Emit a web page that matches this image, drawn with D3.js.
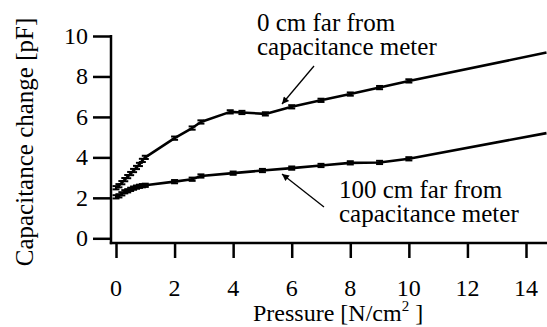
<!DOCTYPE html>
<html><head><meta charset="utf-8"><script src="https://cdn.jsdelivr.net/npm/d3@7"></script></head>
<body style="margin:0">
<script>
// ---- data ----
const pressure0 = [0, 0.1, 0.2, 0.3, 0.4, 0.5, 0.6, 0.7, 0.8, 0.9, 1.0, 2.0, 2.6, 2.9, 3.9, 4.3, 5.1, 6.0, 7.0, 8.0, 9.0, 10.0, 14.7];
const cap0 = [2.5, 2.6, 2.75, 2.9, 3.05, 3.2, 3.35, 3.5, 3.65, 3.85, 4.0, 4.95, 5.45, 5.75, 6.25, 6.22, 6.15, 6.5, 6.82, 7.13, 7.45, 7.78, 9.18];
const pressure100 = [0, 0.1, 0.2, 0.3, 0.4, 0.5, 0.6, 0.7, 0.8, 0.9, 1.0, 2.0, 2.6, 2.9, 4.0, 5.0, 6.0, 7.0, 8.0, 9.0, 10.0, 14.7];
const cap100 = [2.05, 2.1, 2.2, 2.3, 2.35, 2.42, 2.48, 2.53, 2.57, 2.6, 2.62, 2.8, 2.92, 3.08, 3.22, 3.35, 3.47, 3.6, 3.73, 3.75, 3.93, 5.2];
const errBar = 0.08;
const xTicks = [0, 2, 4, 6, 8, 10, 12, 14];
const yTicks = [0, 2, 4, 6, 8, 10];
const xTitle = "Pressure [N/cm";
const yTitle = "Capacitance change [pF]";
const label0 = ["0 cm far from", "capacitance meter"];
const label100 = ["100 cm far from", "capacitance meter"];

// ---- layout ----
const W = 547, H = 327;
const svg = d3.select("body").append("svg").attr("width", W).attr("height", H);
const x = d3.scaleLinear().domain([0, 14]).range([116, 526]);
const y = d3.scaleLinear().domain([0, 10]).range([238.3, 36]);
const axisX = 111, axisY = 243;
const FS = 24;

function serif(sel, size) {
  return sel.attr("font-size", size).style("font-family", `"Liberation Serif"`);
}

// y axis ticks (lines only from d3 axis; labels as own texts)
const gy = svg.append("g").attr("transform", `translate(${axisX},0)`)
  .call(d3.axisLeft(y).tickValues(yTicks).tickSize(18).tickFormat(""));
gy.select(".domain").remove();
gy.attr("font-family", null).attr("font-size", null);
gy.selectAll(".tick text").remove();
gy.selectAll(".tick line").attr("stroke", "#000").attr("stroke-width", 2.5);
yTicks.forEach(v => {
  serif(svg.append("text"), FS).attr("x", axisX - 23).attr("y", y(v) + 8)
    .attr("text-anchor", "end").text(v);
});
svg.append("line").attr("x1", axisX).attr("x2", axisX).attr("y1", y(10) - 1).attr("y2", axisY + 1.2)
  .attr("stroke", "#000").attr("stroke-width", 2.5);

// x axis
const gx = svg.append("g").attr("transform", `translate(0,${axisY})`)
  .call(d3.axisBottom(x).tickValues(xTicks).tickSize(15).tickFormat(""));
gx.select(".domain").remove();
gx.attr("font-family", null).attr("font-size", null);
gx.selectAll(".tick text").remove();
gx.selectAll(".tick line").attr("stroke", "#000").attr("stroke-width", 2.5);
xTicks.forEach(v => {
  serif(svg.append("text"), FS).attr("x", x(v)).attr("y", axisY + 53)
    .attr("text-anchor", "middle").text(v);
});
svg.append("line").attr("x1", axisX - 1.2).attr("x2", W).attr("y1", axisY).attr("y2", axisY)
  .attr("stroke", "#000").attr("stroke-width", 2.5);

// titles
const xt = serif(svg.append("text"), FS).attr("x", 253).attr("y", 321);
xt.append("tspan").text(xTitle);
xt.append("tspan").attr("font-size", 15).attr("dy", -10).text("2");
xt.append("tspan").attr("dy", 10).text(" ]");

serif(svg.append("text"), 25).attr("transform", "translate(33,142) rotate(-90)")
  .attr("text-anchor", "middle").text(yTitle);

// series
const lineGen = d3.line().x(d => x(d[0])).y(d => y(d[1]));
function drawSeries(px, py) {
  const pts = px.map((v, i) => [v, py[i]]);
  svg.append("path").datum(pts).attr("d", lineGen).attr("fill", "none")
    .attr("stroke", "#000").attr("stroke-width", 2.6).attr("stroke-linejoin", "round");
  const g = svg.append("g").attr("stroke", "#000").attr("stroke-width", 2);
  pts.slice(0, pts.length - 1).forEach(d => {
    g.append("line").attr("x1", x(d[0])).attr("x2", x(d[0]))
      .attr("y1", y(d[1] - errBar)).attr("y2", y(d[1] + errBar));
    [d[1] - errBar, d[1] + errBar].forEach(v => {
      g.append("line").attr("x1", x(d[0]) - 3.5).attr("x2", x(d[0]) + 3.5)
        .attr("y1", y(v)).attr("y2", y(v));
    });
  });
}
drawSeries(pressure0, cap0);
drawSeries(pressure100, cap100);

// annotations
function label(lines, lx, ly) {
  lines.forEach((t, i) => {
    serif(svg.append("text"), 25).attr("x", lx).attr("y", ly + i * 23.5).text(t);
  });
}
label(label0, 257, 31);
label(label100, 339, 198);

const defs = svg.append("defs");
defs.append("marker").attr("id", "ah").attr("viewBox", "0 0 10 10").attr("refX", 10).attr("refY", 5)
  .attr("markerWidth", 9).attr("markerHeight", 7).attr("markerUnits", "userSpaceOnUse").attr("orient", "auto")
  .append("path").attr("d", "M0,0 L10,5 L0,10 Z").attr("fill", "#000");
svg.append("line").attr("x1", 314).attr("y1", 66).attr("x2", 282).attr("y2", 104)
  .attr("stroke", "#000").attr("stroke-width", 1.3).attr("marker-end", "url(#ah)");
svg.append("line").attr("x1", 324).attr("y1", 207).attr("x2", 282).attr("y2", 174)
  .attr("stroke", "#000").attr("stroke-width", 1.3).attr("marker-end", "url(#ah)");
</script>
</body>
</html>
